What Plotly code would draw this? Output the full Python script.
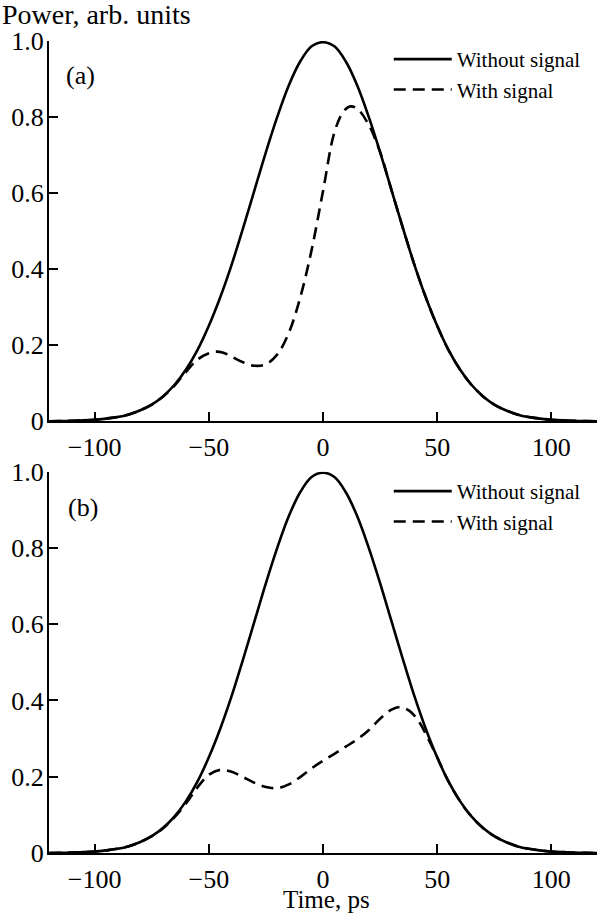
import plotly.graph_objects as go

# ---- data ----
time_solid = [-120, -115, -110, -105, -100, -95, -90, -85, -80, -75, -70, -65, -60, -55, -50,
              -45, -40, -35, -30, -25, -20, -15, -10, -5, 0, 5, 10, 15, 20, 25, 30, 35, 40,
              45, 50, 55, 60, 65, 70, 75, 80, 85, 90, 95, 100, 105, 110, 115, 120]
power_solid = [0.0, 0.0005, 0.0012, 0.0022, 0.004, 0.007, 0.011, 0.018, 0.029, 0.044, 0.066,
               0.096, 0.136, 0.187, 0.251, 0.326, 0.412, 0.508, 0.608, 0.708, 0.801, 0.883,
               0.946, 0.986, 0.997, 0.986, 0.946, 0.883, 0.801, 0.708, 0.608, 0.508, 0.412,
               0.326, 0.251, 0.187, 0.136, 0.096, 0.066, 0.044, 0.029, 0.018, 0.011, 0.007,
               0.004, 0.0022, 0.0012, 0.0005, 0.0]

time_a = [-120, -115, -110, -105, -100, -95, -90, -85, -80, -75, -70, -65, -60, -55, -50,
          -47, -44, -40, -35, -30, -25, -20, -15, -10, -5, 0, 5, 9, 12, 15, 20, 25, 30, 35,
          40, 45, 50, 55, 60, 65, 70, 75, 80, 85, 90, 95, 100, 105, 110, 115, 120]
power_a = [0.0, 0.0005, 0.0012, 0.0022, 0.004, 0.007, 0.011, 0.018, 0.029, 0.044, 0.065,
           0.094, 0.130, 0.162, 0.179, 0.183, 0.181, 0.170, 0.155, 0.146, 0.150, 0.176,
           0.232, 0.325, 0.450, 0.605, 0.760, 0.815, 0.828, 0.822, 0.780, 0.708, 0.608,
           0.508, 0.412, 0.326, 0.251, 0.187, 0.136, 0.096, 0.066, 0.044, 0.029, 0.018,
           0.011, 0.007, 0.004, 0.0022, 0.0012, 0.0005, 0.0]

time_b = [-120, -115, -110, -105, -100, -95, -90, -85, -80, -75, -70, -65, -60, -55, -50,
          -45, -40, -35, -30, -25, -20, -15, -10, -5, 0, 5, 10, 15, 20, 25, 30, 34, 38, 42,
          46, 50, 55, 60, 65, 70, 75, 80, 85, 90, 95, 100, 105, 110, 115, 120]
power_b = [0.0, 0.0005, 0.0012, 0.0022, 0.004, 0.007, 0.011, 0.018, 0.029, 0.044, 0.065,
           0.094, 0.130, 0.172, 0.205, 0.218, 0.213, 0.199, 0.184, 0.173, 0.170, 0.180,
           0.199, 0.222, 0.242, 0.260, 0.279, 0.298, 0.322, 0.352, 0.376, 0.383, 0.372,
           0.345, 0.300, 0.251, 0.187, 0.136, 0.096, 0.066, 0.044, 0.029, 0.018, 0.011,
           0.007, 0.004, 0.0022, 0.0012, 0.0005, 0.0]

x_ticks = [-100, -50, 0, 50, 100]
x_ticktext = ["\u2212100", "\u221250", "0", "50", "100"]
y_ticks = [0, 0.2, 0.4, 0.6, 0.8, 1.0]
y_ticktext = ["0", "0.2", "0.4", "0.6", "0.8", "1.0"]

FONT = "Liberation Serif, Times New Roman, serif"
LW = 2.6
DASH = "12px,7px"
TICKSIZE = 26

fig = go.Figure()
fig.add_trace(go.Scatter(x=time_solid, y=power_solid, mode="lines", name="Without signal",
                         line=dict(color="black", width=LW, shape="spline"),
                         xaxis="x", yaxis="y", legend="legend"))
fig.add_trace(go.Scatter(x=time_a, y=power_a, mode="lines", name="With signal",
                         line=dict(color="black", width=LW, dash=DASH, shape="spline"),
                         xaxis="x", yaxis="y", legend="legend"))
fig.add_trace(go.Scatter(x=time_solid, y=power_solid, mode="lines", name="Without signal",
                         line=dict(color="black", width=LW, shape="spline"),
                         xaxis="x2", yaxis="y2", legend="legend2"))
fig.add_trace(go.Scatter(x=time_b, y=power_b, mode="lines", name="With signal",
                         line=dict(color="black", width=LW, dash=DASH, shape="spline"),
                         xaxis="x2", yaxis="y2", legend="legend2"))

xax = dict(range=[-120, 120], tickvals=x_ticks, ticktext=x_ticktext, showline=True,
           linecolor="black", linewidth=2, ticks="inside", ticklen=9, tickwidth=2,
           tickcolor="black", showgrid=False, zeroline=False, ticklabelstandoff=2,
           automargin=False, tickfont=dict(family=FONT, size=TICKSIZE, color="black"))
yax = dict(range=[0, 1.0], tickvals=y_ticks, ticktext=y_ticktext, showline=True,
           linecolor="black", linewidth=2, ticks="inside", ticklen=9, tickwidth=2,
           tickcolor="black", showgrid=False, zeroline=False, ticklabelstandoff=-2,
           automargin=False, tickfont=dict(family=FONT, size=TICKSIZE, color="black"))

legend_common = dict(font=dict(family=FONT, size=21, color="black"), bgcolor="rgba(0,0,0,0)",
                     xanchor="left", yanchor="top", itemwidth=58, tracegroupgap=0)

fig.update_layout(
    width=597, height=914,
    margin=dict(l=49, r=0, t=41, b=61),
    paper_bgcolor="white", plot_bgcolor="white",
    showlegend=True,
    xaxis=dict(xax, anchor="y", domain=[0, 1]),
    yaxis=dict(yax, anchor="x", domain=[0.5317, 1]),
    xaxis2=dict(xax, anchor="y2", domain=[0, 1]),
    yaxis2=dict(yax, anchor="x2", domain=[0, 0.4696]),
    legend=dict(legend_common, x=0.62, y=1.0 + 2 / 812),
    legend2=dict(legend_common, x=0.62, y=0.4696 + 0.7 / 812),
    annotations=[
        dict(text="Power, arb. units", xref="paper", yref="paper", x=-49 / 548, y=(853 - 15) / 812,
             xanchor="left", yanchor="middle", showarrow=False,
             font=dict(family=FONT, size=28, color="black")),
        dict(text="Time, ps", xref="paper", yref="paper", x=(326 - 49) / 548, y=(853 - 914) / 812,
             xanchor="center", yanchor="bottom", showarrow=False, borderpad=0,
             font=dict(family=FONT, size=25, color="black")),
        dict(text="(a)", xref="paper", yref="paper", x=(80 - 49) / 548, y=(853 - 75) / 812,
             xanchor="center", yanchor="middle", showarrow=False,
             font=dict(family=FONT, size=26, color="black")),
        dict(text="(b)", xref="paper", yref="paper", x=(83 - 49) / 548, y=(853 - 507) / 812,
             xanchor="center", yanchor="middle", showarrow=False,
             font=dict(family=FONT, size=26, color="black")),
    ],
)

fig.write_html("out.html", config={"displayModeBar": False},
               post_script="document.body.style.margin='0';document.body.style.padding='0';")
